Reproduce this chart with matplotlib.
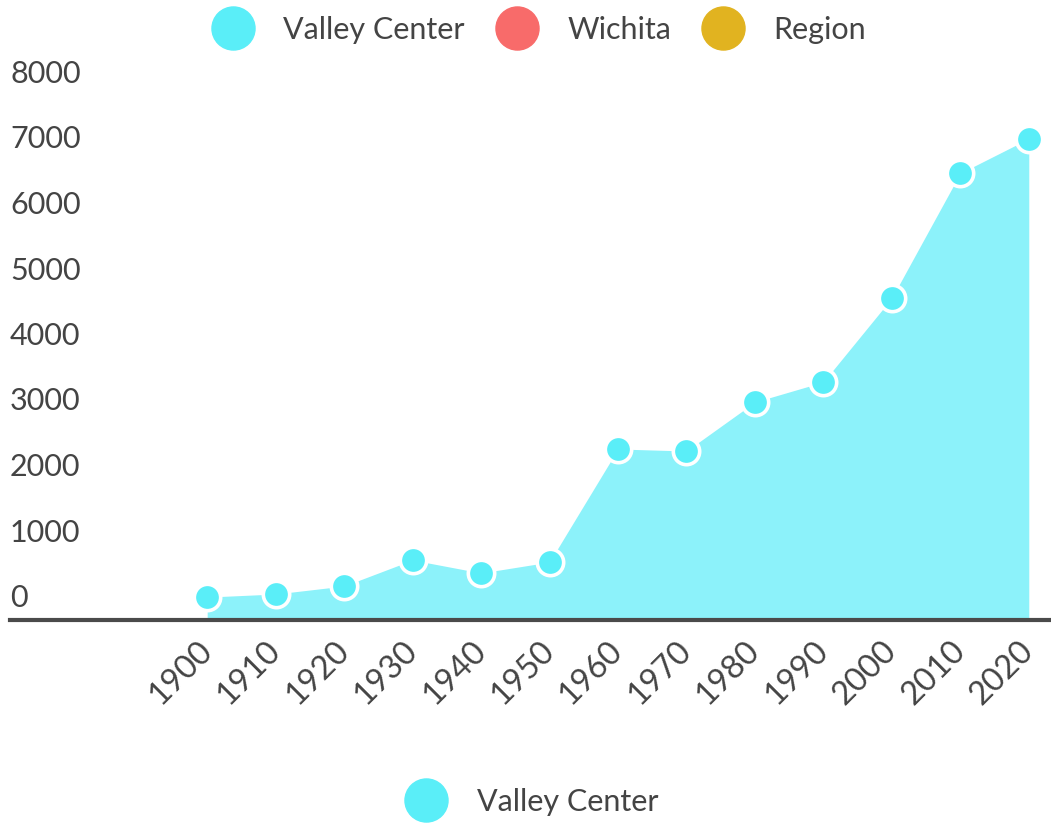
import matplotlib.pyplot as plt
from matplotlib.lines import Line2D

# census population, Valley Center
years = [1900, 1910, 1920, 1930, 1940, 1950, 1960, 1970, 1980, 1990, 2000, 2010, 2020]
population = [350, 397, 519, 916, 718, 885, 2611, 2580, 3328, 3634, 4916, 6822, 7349]
y_ticks = [0, 1000, 2000, 3000, 4000, 5000, 6000, 7000, 8000]
legend_names = ['Valley Center', 'Wichita', 'Region']
legend_colors = ['#5AEEF8', '#F86B6A', '#E1B320']

text_color = '#444444'
plt.rcParams['font.family'] = ['Lato', 'DejaVu Sans']
plt.rcParams['font.size'] = 22

fig = plt.figure(figsize=(10.51, 8.25), dpi=100)
ax = fig.add_axes([10 / 1051, 1 - 620 / 825, 1040 / 1051, 524 / 825])

ax.fill_between(years, population, 0, color='#8CF2FA', lw=0, zorder=1)
ax.scatter(years, population, s=360, color=legend_colors[0], edgecolor='white',
           linewidth=2.6, zorder=3, clip_on=False)

ax.set_xlim(1871.2, 2023.1)
ax.set_ylim(0, 8000)

for side in ['top', 'right', 'left']:
    ax.spines[side].set_visible(False)
ax.spines['bottom'].set_color('#4a4a4a')
ax.spines['bottom'].set_linewidth(3)
ax.spines['bottom'].set_zorder(4)

# y labels sit just above their value, flush left
ax.set_yticks([])
for v in y_ticks:
    ax.annotate(str(v), xy=(0, v), xycoords=ax.get_yaxis_transform(),
                xytext=(0, 13), textcoords='offset pixels',
                ha='left', va='baseline', color=text_color)

ax.set_xticks(years)
ax.set_xticklabels([str(y) for y in years], rotation=45, ha='right', fontsize=23.5,
                   va='center', rotation_mode='anchor', color=text_color)
ax.tick_params(axis='x', length=0, pad=19)

handles = [Line2D([], [], marker='o', ls='', markersize=31, color=c) for c in legend_colors]
fig.legend(handles, legend_names, loc='upper center', bbox_to_anchor=(0.512, 0.996),
           ncol=3, frameon=False, handlelength=1.5, handletextpad=0.9,
           columnspacing=0.95, labelcolor=text_color, borderaxespad=0.0)

fig.legend(handles[:1], legend_names[:1], loc='center', bbox_to_anchor=(0.505, 0.028),
           frameon=False, handlelength=1.5, handletextpad=0.9, labelcolor=text_color)

fig.savefig('out.png', dpi=100)
